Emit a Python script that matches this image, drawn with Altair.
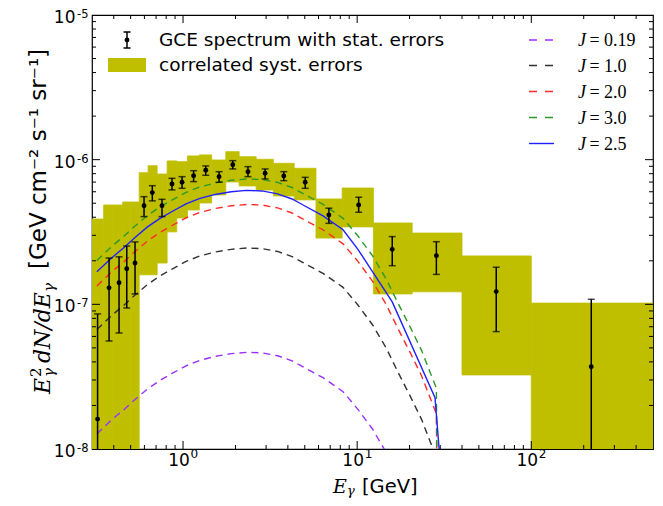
import altair as alt
import pandas as pd

W, H = 561, 434

# ---------------- data ----------------
# correlated systematic error boxes (energy bins)
bin_lo = [0.30, 0.35, 0.40, 0.45, 0.50, 0.56, 0.63, 0.71, 0.81, 0.92, 1.06, 1.24,
          1.46, 1.76, 2.10, 2.63, 3.30, 4.35, 5.80, 8.20, 12.4, 20.7, 40.0, 100.0]
bin_hi = [0.35, 0.40, 0.45, 0.50, 0.56, 0.63, 0.71, 0.81, 0.92, 1.06, 1.24, 1.46,
          1.76, 2.10, 2.63, 3.30, 4.35, 5.80, 8.20, 12.4, 20.7, 40.0, 100.0, 500.0]
syst_top = [3.89e-7, 4.86e-7, 4.86e-7, 5.10e-7, 5.10e-7, 8.13e-7, 9.09e-7, 7.96e-7,
            9.80e-7, 9.69e-7, 1.061e-6, 1.078e-6, 9.95e-7, 1.136e-6, 1.049e-6, 1.006e-6,
            9.44e-7, 8.72e-7, 5.35e-7, 6.37e-7, 3.65e-7, 3.11e-7, 2.16e-7, 1.02e-7]
syst_bottom = [1e-9, 1e-9, 1e-9, 1e-9, 1e-9, 1.60e-7, 1.60e-7, 1.93e-7,
               3.17e-7, 3.95e-7, 4.49e-7, 5.02e-7, 5.70e-7, 7.01e-7, 6.58e-7, 6.17e-7,
               5.61e-7, 5.27e-7, 2.87e-7, 3.43e-7, 1.18e-7, 1.22e-7, 3.25e-8, 1e-9]

# GCE spectrum points with statistical errors
gce_E = [0.323, 0.376, 0.429, 0.475, 0.530, 0.597, 0.666, 0.757, 0.864, 0.987, 1.15, 1.35,
         1.61, 1.93, 2.36, 2.96, 3.79, 5.03, 6.88, 10.2, 15.9, 28.5, 62.9, 221.0]
gce_flux = [1.61e-8, 1.30e-7, 1.41e-7, 1.76e-7, 1.93e-7, 4.81e-7, 5.92e-7, 4.81e-7,
            6.79e-7, 6.98e-7, 7.75e-7, 8.45e-7, 7.63e-7, 9.23e-7, 8.26e-7, 8.05e-7,
            7.71e-7, 6.98e-7, 4.15e-7, 4.86e-7, 2.40e-7, 2.17e-7, 1.225e-7, 3.71e-8]
gce_err_hi = [8.59e-8, 2.09e-7, 2.13e-7, 2.53e-7, 2.70e-7, 5.55e-7, 6.61e-7, 5.32e-7,
              7.43e-7, 7.63e-7, 8.39e-7, 9.05e-7, 8.26e-7, 9.84e-7, 8.95e-7, 8.63e-7,
              8.26e-7, 7.55e-7, 4.62e-7, 5.50e-7, 2.94e-7, 2.71e-7, 1.805e-7, 1.084e-7]
gce_err_lo = [1e-9, 5.58e-8, 6.34e-8, 9.44e-8, 1.18e-7, 4.04e-7, 5.19e-7, 4.04e-7,
              6.18e-7, 6.34e-7, 7.05e-7, 7.80e-7, 6.98e-7, 8.63e-7, 7.63e-7, 7.36e-7,
              7.16e-7, 6.34e-7, 3.63e-7, 4.33e-7, 1.85e-7, 1.61e-7, 6.48e-8, 1e-9]

# model curves
model_E = [0.32, 0.39, 0.455, 0.53, 0.625, 0.73, 0.87, 1.04, 1.25, 1.53, 1.89, 2.32, 2.84,
           3.49, 4.23, 4.86, 6.37, 8.30, 10.1, 12.27, 14.66, 17.3, 20.2, 23.5, 26.3, 28.5, 29.5]
model_J019 = [1.27e-8, 1.60e-8, 1.86e-8, 2.20e-8, 2.60e-8, 2.96e-8, 3.34e-8, 3.76e-8, 4.10e-8,
              4.37e-8, 4.56e-8, 4.66e-8, 4.62e-8, 4.41e-8, 4.07e-8, 3.71e-8, 3.11e-8, 2.49e-8,
              1.88e-8, 1.37e-8, 9.5e-9, 6.3e-9, 4.4e-9, 3.0e-9, 2.1e-9, 1.7e-9, 1e-10]
model_J10 = [6.7e-8, 8.4e-8, 9.8e-8, 1.16e-7, 1.37e-7, 1.56e-7, 1.76e-7, 1.98e-7, 2.16e-7,
             2.30e-7, 2.40e-7, 2.45e-7, 2.43e-7, 2.32e-7, 2.14e-7, 1.95e-7, 1.635e-7, 1.31e-7,
             9.9e-8, 7.2e-8, 5.0e-8, 3.33e-8, 2.31e-8, 1.59e-8, 1.12e-8, 8.8e-9, 1e-10]
model_J20 = [1.34e-7, 1.68e-7, 1.96e-7, 2.32e-7, 2.74e-7, 3.12e-7, 3.52e-7, 3.96e-7, 4.32e-7,
             4.60e-7, 4.80e-7, 4.90e-7, 4.86e-7, 4.64e-7, 4.28e-7, 3.90e-7, 3.27e-7, 2.62e-7,
             1.98e-7, 1.44e-7, 1.00e-7, 6.66e-8, 4.62e-8, 3.18e-8, 2.24e-8, 1.76e-8, 1e-10]
model_J30 = [2.01e-7, 2.52e-7, 2.94e-7, 3.48e-7, 4.11e-7, 4.68e-7, 5.28e-7, 5.94e-7, 6.48e-7,
             6.90e-7, 7.20e-7, 7.35e-7, 7.29e-7, 6.96e-7, 6.42e-7, 5.85e-7, 4.91e-7, 3.93e-7,
             2.97e-7, 2.16e-7, 1.50e-7, 9.99e-8, 6.93e-8, 4.77e-8, 3.36e-8, 2.64e-8, 1e-10]
model_J25_E = [0.32, 0.39, 0.455, 0.53, 0.625, 0.73, 0.87, 1.04, 1.25, 1.53, 1.89, 2.32, 2.84,
               3.49, 4.23, 4.86, 6.37, 8.30, 10.1, 15.9, 28.0, 30.0]
model_J25 = [1.68e-7, 2.10e-7, 2.45e-7, 2.90e-7, 3.43e-7, 3.90e-7, 4.40e-7, 4.95e-7, 5.40e-7,
             5.75e-7, 6.00e-7, 6.13e-7, 6.08e-7, 5.80e-7, 5.35e-7, 4.88e-7, 4.09e-7, 3.28e-7,
             2.40e-7, 1.04e-7, 2.26e-8, 8.0e-9]

# tick positions and labels
xticks_major = [1, 10, 100]
xticks_exp = ["0", "1", "2"]
xticks_minor = [0.4, 0.5, 0.6, 0.7, 0.8, 0.9, 2, 3, 4, 5, 6, 7, 8, 9,
                20, 30, 40, 50, 60, 70, 80, 90, 200, 300, 400]
ylabel_vals = [1e-8, 1e-7, 1e-6, 1e-5]
ylabel_exp = ["-8", "-7", "-6", "-5"]
yticks_major = [1e-7, 1e-6]
yticks_minor = [2e-8, 3e-8, 4e-8, 5e-8, 6e-8, 7e-8, 8e-8, 9e-8,
                2e-7, 3e-7, 4e-7, 5e-7, 6e-7, 7e-7, 8e-7, 9e-7,
                2e-6, 3e-6, 4e-6, 5e-6, 6e-6, 7e-6, 8e-6, 9e-6]

legend_labels = ["0.19", "1.0", "2.0", "3.0", "2.5"]
legend_colors = ["#9b30ff", "#333333", "#ff2a2a", "#2a9a2a", "#2020ff"]

# ---------------- chart ----------------
xs = alt.Scale(type="log", domain=[0.3, 500], nice=False, padding=0)
ys = alt.Scale(type="log", domain=[1e-8, 1e-5], nice=False, padding=0)

YELLOW = "#bfbf00"
SANS = "DejaVu Sans"
SERIF = "DejaVu Serif"

box_df = pd.DataFrame({"lo": bin_lo, "hi": bin_hi, "top": syst_top, "bot": syst_bottom})
pt_df = pd.DataFrame({"E": gce_E, "F": gce_flux, "up": gce_err_hi, "dn": gce_err_lo})


def X(f):
    return alt.X(f, scale=xs, axis=None)


def Y(f):
    return alt.Y(f, scale=ys, axis=None)


boxes = alt.Chart(box_df).mark_rect(color=YELLOW, stroke=YELLOW, strokeWidth=0.8,
                                    clip=True).encode(
    x=X("lo:Q"), x2="hi:Q", y=Y("top:Q"), y2="bot:Q")

layers = [boxes]


def curve(Es, vals, color, dash):
    df = pd.DataFrame({"E": Es, "v": vals, "i": list(range(len(Es)))})
    kw = dict(color=color, strokeWidth=1.4, clip=True)
    if dash:
        kw["strokeDash"] = [7, 5]
    return alt.Chart(df).mark_line(**kw).encode(x=X("E:Q"), y=Y("v:Q"), order="i:Q")


layers += [
    curve(model_E, model_J019, legend_colors[0], True),
    curve(model_E, model_J10, legend_colors[1], True),
    curve(model_E, model_J20, legend_colors[2], True),
    curve(model_E, model_J30, legend_colors[3], True),
    curve(model_J25_E, model_J25, legend_colors[4], False),
]

# error bars, caps and points
layers.append(alt.Chart(pt_df).mark_rule(color="black", strokeWidth=1.5, clip=True).encode(
    x=X("E:Q"), y=Y("dn:Q"), y2="up:Q"))
for fld in ["up", "dn"]:
    layers.append(alt.Chart(pt_df).mark_tick(color="black", orient="horizontal", size=7,
                                             thickness=1.5, clip=True).encode(
        x=X("E:Q"), y=Y(f"{fld}:Q")))
layers.append(alt.Chart(pt_df).mark_circle(color="black", size=24, opacity=1, clip=True).encode(
    x=X("E:Q"), y=Y("F:Q")))


# inward ticks on all four sides
def xticks(vals, length):
    df = pd.DataFrame({"v": vals})
    out = []
    for y0, y1 in [(H, H - length), (0, length)]:
        out.append(alt.Chart(df).mark_rule(color="black", strokeWidth=1).encode(
            x=X("v:Q"), y=alt.value(y0), y2=alt.value(y1)))
    return out


def yticks(vals, length):
    df = pd.DataFrame({"v": vals})
    out = []
    for x0, x1 in [(0, length), (W, W - length)]:
        out.append(alt.Chart(df).mark_rule(color="black", strokeWidth=1).encode(
            y=Y("v:Q"), x=alt.value(x0), x2=alt.value(x1)))
    return out


layers += xticks(xticks_major, 8) + xticks(xticks_minor, 4)
layers += yticks(yticks_major, 8) + yticks(yticks_minor, 4)

# tick labels (10 with superscript exponent)
xl_df = pd.DataFrame({"v": xticks_major, "e": xticks_exp})
layers.append(alt.Chart(xl_df).mark_text(font=SANS, fontSize=17, align="center",
                                         baseline="alphabetic", dx=-4, color="black").encode(
    x=X("v:Q"), y=alt.value(H + 17), text=alt.value("10")))
layers.append(alt.Chart(xl_df).mark_text(font=SANS, fontSize=12, align="left",
                                         baseline="alphabetic", dx=7.5, color="black").encode(
    x=X("v:Q"), y=alt.value(H + 9), text="e:N"))
yl_df = pd.DataFrame({"v": ylabel_vals, "e": ylabel_exp})
layers.append(alt.Chart(yl_df).mark_text(font=SANS, fontSize=17, align="right",
                                         baseline="alphabetic", dy=8, color="black").encode(
    y=Y("v:Q"), x=alt.value(-16.5), text=alt.value("10")))
layers.append(alt.Chart(yl_df).mark_text(font=SANS, fontSize=11.5, align="right",
                                         baseline="alphabetic", dy=3, color="black").encode(
    y=Y("v:Q"), x=alt.value(-3.5), text="e:N"))

ONE = pd.DataFrame({"a": [0]})


def txt(x, y, s, size=18, font=SANS, style="normal", angle=0, align="left",
        baseline="middle"):
    return alt.Chart(ONE).mark_text(fontSize=size, font=font, fontStyle=style, angle=angle,
                                    align=align, baseline=baseline, color="black").encode(
        x=alt.value(x), y=alt.value(y), text=alt.value(s))


# left legend
layers.append(alt.Chart(ONE).mark_rule(color="black", strokeWidth=1.5).encode(
    x=alt.value(35), y=alt.value(17), y2=alt.value(33)))
for yy in (17, 33):
    layers.append(alt.Chart(ONE).mark_rule(color="black", strokeWidth=1.5).encode(
        x=alt.value(31.5), x2=alt.value(38.5), y=alt.value(yy)))
layers.append(alt.Chart(ONE).mark_circle(color="black", size=24, opacity=1).encode(
    x=alt.value(35), y=alt.value(25)))
layers.append(alt.Chart(ONE).mark_rect(color=YELLOW).encode(
    x=alt.value(16), x2=alt.value(54), y=alt.value(43), y2=alt.value(57)))
layers.append(txt(67, 25, "GCE spectrum with stat. errors", size=18.5))
layers.append(txt(67, 50, "correlated syst. errors", size=18.5))

# right legend
rows = [25, 50.5, 76.5, 102.5, 128.5]
for k, (lab, col, yy) in enumerate(zip(legend_labels, legend_colors, rows)):
    mk = dict(color=col, strokeWidth=1.4)
    if k < 4:
        mk["strokeDash"] = [8, 8]
    layers.append(alt.Chart(ONE).mark_rule(**mk).encode(
        x=alt.value(437), x2=alt.value(462), y=alt.value(yy)))
    layers.append(txt(486, yy + 6, "J", size=18, font="Liberation Serif", style="italic",
                      baseline="alphabetic"))
    layers.append(txt(497.5, yy + 6, "=", size=18, font="Liberation Serif",
                      baseline="alphabetic"))
    layers.append(txt(512, yy + 6, lab, size=18, font="Liberation Serif",
                      baseline="alphabetic"))

# x axis title
layers.append(txt(241, 477.5, "E", size=19, font=SERIF, style="italic", baseline="alphabetic"))
layers.append(txt(255, 479.5, "\u03b3", size=13, font=SERIF, style="italic",
                  baseline="alphabetic"))
layers.append(txt(270, 477.5, "[GeV]", size=19.5, baseline="alphabetic"))

# y axis title (rotated)
MX = -42
layers.append(txt(MX, 379, "E", size=22, font=SERIF, style="italic", angle=270,
                  baseline="alphabetic"))
layers.append(txt(MX - 9, 362, "2", size=15, font=SERIF, angle=270, baseline="alphabetic"))
layers.append(txt(MX + 4, 362, "\u03b3", size=15, font=SERIF, style="italic", angle=270,
                  baseline="alphabetic"))
layers.append(txt(MX, 348, "dN/dE", size=22, font=SERIF, style="italic", angle=270,
                  baseline="alphabetic"))
layers.append(txt(MX + 4, 277, "\u03b3", size=15, font=SERIF, style="italic", angle=270,
                  baseline="alphabetic"))
layers.append(txt(-46, 144, "[GeV cm\u207b\u00b2 s\u207b\u00b9 sr\u207b\u00b9]", size=23,
                  angle=270, align="center", baseline="alphabetic"))

# whole page: 8 + 84 + 561 + 2 + 8 = 663 wide, 8 + 7 + 434 + 49 + 8 = 506 tall
chart = alt.layer(*layers).properties(
    width=W, height=H, autosize="none",
    padding={"left": 84, "top": 7, "right": 2, "bottom": 49},
).configure_view(stroke="black", strokeWidth=1.2)

chart.save("out.html", embed_options={"renderer": "svg", "actions": False})
